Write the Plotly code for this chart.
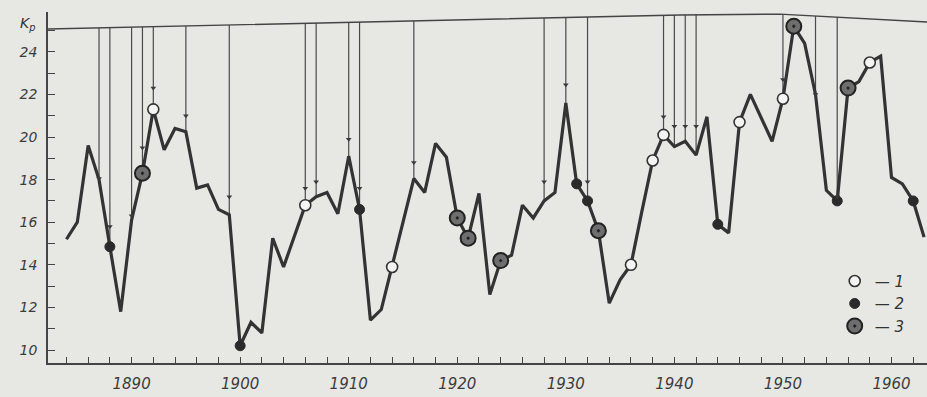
import numpy as np
import plotly.graph_objects as go

# ---- data ----
years = list(range(1884, 1964))
kp = [15.2, 16.0, 19.6, 18.0, 14.85, 11.8, 16.1, 18.3, 21.3, 19.4,     # 1884-1893
      20.4, 20.25, 17.6, 17.75, 16.6, 16.35, 10.2, 11.3, 10.8, 15.25,  # 1894-1903
      13.9, 15.4, 16.8, 17.2, 17.4, 16.4, 19.1, 16.6, 11.4, 11.9,      # 1904-1913
      13.9, 16.0, 18.05, 17.4, 19.7, 19.05, 16.2, 15.25, 17.35, 12.6,  # 1914-1923
      14.2, 14.45, 16.8, 16.2, 17.0, 17.4, 21.6, 17.8, 17.0, 15.6,     # 1924-1933
      12.2, 13.3, 14.0, 16.5, 18.9, 20.1, 19.55, 19.8, 19.15, 20.95,   # 1934-1943
      15.9, 15.5, 20.7, 22.0, 20.9, 19.8, 21.8, 25.2, 24.4, 22.0,      # 1944-1953
      17.5, 17.0, 22.3, 22.6, 23.5, 23.8, 18.1, 17.8, 17.0, 15.3]      # 1954-1963

open_years = [1892, 1906, 1914, 1936, 1938, 1939, 1946, 1950, 1958]      # type 1
filled_years = [1888, 1900, 1911, 1931, 1932, 1944, 1955, 1962]          # type 2
ringed_years = [1891, 1920, 1921, 1924, 1933, 1951, 1956]                # type 3

arrow_years = [1887, 1888, 1890, 1891, 1892, 1895, 1899, 1906, 1907, 1910, 1911,
               1916, 1928, 1930, 1932, 1939, 1940, 1941, 1942, 1950, 1953, 1955]
arrow_tips = [18.05, 15.8, 16.3, 19.5, 22.3, 21.0, 17.2, 17.6, 17.9, 19.9, 17.6,
              18.8, 17.9, 22.45, 17.9, 20.95, 20.5, 20.5, 20.5, 22.7, 22.0, 17.2]

x_ticks = [1890, 1900, 1910, 1920, 1930, 1940, 1950, 1960]
y_ticks = [10, 12, 14, 16, 18, 20, 22, 24]

# ---- layout helpers (frame line of the original drawing, slightly tilted) ----
X_RANGE = [1882.3, 1963.27]
Y_RANGE = [9.39, 25.87]
frame_x = [X_RANGE[0], 1940.5, 1949.7, X_RANGE[1]]
frame_y = [25.07, 25.73, 25.77, 25.40]

kp_of = dict(zip(years, kp))

INK = "#333333"
BG = "#e7e7e3"

fig = go.Figure()

# arrow shafts from the top frame down to the curve
ax_x, ax_y = [], []
for yr in arrow_years:
    ax_x += [yr, yr, None]
    ax_y += [float(np.interp(yr, frame_x, frame_y)), kp_of[yr], None]
fig.add_trace(go.Scatter(x=ax_x, y=ax_y, mode="lines",
                         line=dict(color="#4a4a4a", width=1.2),
                         showlegend=False, hoverinfo="skip"))

# main curve
fig.add_trace(go.Scatter(x=years, y=kp, mode="lines",
                         line=dict(color=INK, width=3.2),
                         showlegend=False))

# markers
fig.add_trace(go.Scatter(x=open_years, y=[kp_of[y] for y in open_years], mode="markers",
                         marker=dict(symbol="circle", size=11, color="#f4f4f2",
                                     line=dict(color=INK, width=1.6)),
                         name="\u2014 <i>1</i>"))
fig.add_trace(go.Scatter(x=filled_years, y=[kp_of[y] for y in filled_years], mode="markers",
                         marker=dict(symbol="circle", size=10, color="#2a2a2a",
                                     line=dict(color="#2a2a2a", width=1)),
                         name="\u2014 <i>2</i>"))
fig.add_trace(go.Scatter(x=ringed_years, y=[kp_of[y] for y in ringed_years], mode="markers",
                         marker=dict(symbol="circle-dot", size=15, color="#6e6e6e",
                                     line=dict(color="#222222", width=2)),
                         name="\u2014 <i>3</i>"))

# arrow heads
fig.add_trace(go.Scatter(x=arrow_years, y=arrow_tips, mode="markers",
                         marker=dict(symbol="triangle-down", size=5, color="#3a3a3a"),
                         showlegend=False, hoverinfo="skip"))

# top frame line
path = "M " + " L ".join(f"{x},{y}" for x, y in zip(frame_x, frame_y))
fig.add_shape(type="path", path=path, xref="x", yref="y",
              line=dict(color="#444444", width=1.4), layer="above")

tickfont_x = dict(family="DejaVu Sans", size=15, color="#3c3c3c", style="italic")
tickfont_y = dict(family="DejaVu Sans", size=14, color="#3c3c3c", style="italic")

fig.update_layout(
    width=927, height=397,
    margin=dict(l=48, r=0, t=12, b=34),
    paper_bgcolor=BG, plot_bgcolor=BG,
    xaxis=dict(range=X_RANGE, tickvals=x_ticks, ticktext=[str(v) for v in x_ticks],
               showline=True, linecolor="#444", linewidth=1.5, mirror=False,
               ticks="inside", ticklen=6, tickwidth=1.2, tickcolor="#444",
               minor=dict(dtick=2, tick0=1880, ticks="inside", ticklen=6,
                          tickwidth=1.2, tickcolor="#444"),
               showgrid=False, zeroline=False, tickfont=tickfont_x,
               ticklabelstandoff=6),
    yaxis=dict(range=Y_RANGE, tickvals=y_ticks, ticktext=[str(v) for v in y_ticks],
               showline=True, linecolor="#444", linewidth=1.5,
               ticks="inside", ticklen=7, tickwidth=1.2, tickcolor="#444",
               minor=dict(dtick=1, tick0=10, ticks="inside", ticklen=7,
                          tickwidth=1.2, tickcolor="#444"),
               showgrid=False, zeroline=False, tickfont=tickfont_y,
               ticklabelstandoff=6),
    legend=dict(x=0.895, y=0.28, xanchor="left", yanchor="top",
                bgcolor="rgba(0,0,0,0)", font=dict(family="DejaVu Sans", size=15, color="#333"),
                itemwidth=30, tracegroupgap=0),
    annotations=[dict(text="<i>K<sub>p</sub></i>", xref="paper", yref="paper",
                      x=-0.023, y=0.965, xanchor="center", yanchor="middle",
                      showarrow=False, font=dict(family="DejaVu Sans", size=14, color="#333"))],
)

fig.write_html("out.html",
               config={"displayModeBar": False},
               post_script="document.body.style.margin='0';document.body.style.padding='0';"
                           "document.body.style.overflow='hidden';")
